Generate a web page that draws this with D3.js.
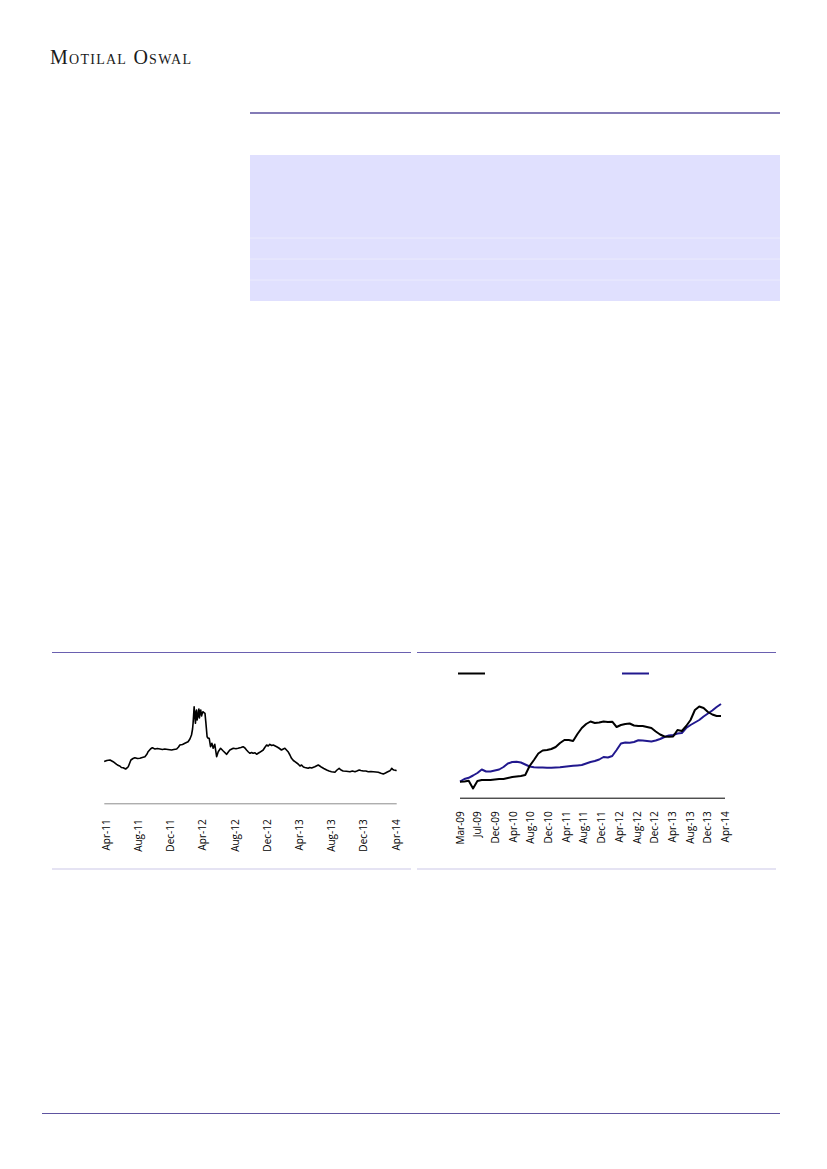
<!DOCTYPE html>
<html>
<head>
<meta charset="utf-8">
<script src="https://cdn.jsdelivr.net/npm/d3@7/dist/d3.min.js"></script>
<style>
  html, body { margin: 0; padding: 0; background: #fff; }
  svg { display: block; }
  .tick text { font-family: "Open Sans", "Noto Sans", sans-serif; font-size: 10px; fill: #000; }
</style>
</head>
<body>
<svg id="page" width="827" height="1169"></svg>
<script>
// ---------------- DATA ----------------
// Chart 1: daily stock price (unlabelled y scale)
const stockDates = [
  "2011-03-27","2011-04-06","2011-04-18","2011-04-30","2011-05-13","2011-05-20","2011-05-25","2011-05-31",
  "2011-06-07","2011-06-16","2011-06-21","2011-06-26","2011-07-06","2011-07-14","2011-07-21","2011-07-31",
  "2011-08-09","2011-08-18","2011-08-28","2011-09-05","2011-09-09","2011-09-18","2011-09-25","2011-10-01",
  "2011-10-05","2011-10-14","2011-10-24","2011-11-02","2011-11-11","2011-11-23","2011-12-07","2011-12-15",
  "2011-12-26","2012-01-02","2012-01-07","2012-01-17","2012-01-26","2012-02-07","2012-02-14","2012-02-20",
  "2012-02-24","2012-02-26","2012-03-01","2012-03-04","2012-03-06","2012-03-08","2012-03-10","2012-03-12",
  "2012-03-15","2012-03-17","2012-03-19","2012-03-21","2012-03-23","2012-03-26","2012-03-29","2012-03-31",
  "2012-04-03","2012-04-06","2012-04-11","2012-04-14","2012-04-19","2012-04-23","2012-04-27","2012-05-02",
  "2012-05-07","2012-05-12","2012-05-18","2012-05-25","2012-05-31","2012-06-09","2012-06-19","2012-07-02",
  "2012-07-08","2012-07-14","2012-07-27","2012-08-06","2012-08-14","2012-08-25","2012-09-02","2012-09-09",
  "2012-09-15","2012-09-22","2012-09-28","2012-10-04","2012-10-10","2012-10-17","2012-10-23","2012-11-04",
  "2012-11-17","2012-11-23","2012-11-30","2012-12-06","2012-12-12","2012-12-19","2012-12-25","2013-01-07",
  "2013-01-15","2013-01-25","2013-02-01","2013-02-07","2013-02-19","2013-02-26","2013-03-04","2013-03-11",
  "2013-03-17","2013-03-29","2013-04-05","2013-04-11","2013-04-18","2013-04-24","2013-05-06","2013-05-12",
  "2013-05-19","2013-05-31","2013-06-13","2013-06-19","2013-06-26","2013-07-04","2013-07-15","2013-07-24",
  "2013-08-02","2013-08-09","2013-08-15","2013-08-23","2013-08-31","2013-09-07","2013-09-15","2013-09-27",
  "2013-10-11","2013-10-20","2013-10-30","2013-11-06","2013-11-15","2013-11-21","2013-11-30","2013-12-10",
  "2013-12-19","2013-12-29","2014-01-07","2014-01-17","2014-01-26","2014-02-05","2014-02-14","2014-02-22",
  "2014-03-01","2014-03-11","2014-03-15","2014-03-18","2014-03-22","2014-03-26","2014-04-01","2014-04-05"
];
const stockValues = [
  41.8,42.8,43.3,41.6,39.0,37.8,37.3,35.8,
  35.6,34.3,35.3,36.6,43.3,44.8,45.6,44.8,
  45.0,45.8,46.6,49.3,51.6,54.3,55.6,54.8,
  54.3,54.8,54.3,53.8,54.3,53.8,53.3,53.8,
  54.3,56.3,58.3,58.8,60.0,61.6,64.3,68.3,
  74.3,80.0,96.6,85.3,80.0,91.3,93.3,83.3,
  87.3,91.3,94.3,85.3,91.3,93.3,87.3,89.3,
  91.6,91.0,90.0,81.6,66.6,65.0,65.0,56.6,
  60.0,55.0,59.0,46.6,51.6,55.0,52.3,49.0,
  51.3,53.3,55.0,54.6,55.0,55.8,56.6,55.3,
  53.3,51.3,50.0,50.8,50.0,50.6,49.0,51.0,
  53.3,55.8,58.3,57.3,59.0,57.8,58.3,56.6,
  55.3,53.3,54.3,55.0,51.6,48.3,45.0,42.8,
  41.6,39.3,37.3,38.3,36.3,35.8,35.0,35.8,
  35.3,36.6,38.3,37.3,36.0,34.8,33.3,32.3,
  31.6,31.3,31.0,33.3,35.0,33.3,32.3,32.0,
  31.6,32.3,31.6,32.3,33.3,32.8,32.3,32.3,
  31.6,31.8,31.6,31.3,31.0,30.0,29.3,30.3,
  31.3,32.6,33.8,35.0,33.8,33.3,33.1,32.6
];
const stockTickDates = ["2011-04-01","2011-08-01","2011-12-01","2012-04-01","2012-08-01",
  "2012-12-01","2013-04-01","2013-08-01","2013-12-01","2014-04-01"];

// Chart 2: two monthly series (black and blue), category axis
const seriesBlack = [
  16.0,16.2,17.0,9.2,16.7,17.7,17.7,17.7,18.2,18.7,
  18.7,19.7,20.7,21.2,21.7,22.7,31.7,37.7,44.2,47.2,
  47.7,48.7,50.7,54.7,57.7,57.7,56.7,63.7,69.7,73.7,
  76.2,74.7,75.2,76.2,75.7,76.0,70.7,72.7,73.7,74.2,
  72.2,71.7,71.7,70.7,69.7,66.2,63.2,61.2,61.0,61.2,
  67.7,66.7,71.7,77.7,87.7,91.2,89.7,85.7,83.2,81.7,81.7
];
const seriesBlue = [
  16.0,18.7,19.9,22.2,24.7,28.2,26.2,26.2,27.2,28.2,
  30.7,34.2,35.7,36.0,35.2,33.2,31.2,30.4,30.2,30.1,
  30.0,30.0,30.2,30.4,31.0,31.5,31.9,32.3,32.7,34.2,
  35.7,36.7,38.2,40.7,40.2,41.7,47.7,54.2,55.2,54.9,
  55.7,57.4,57.2,56.7,56.2,57.2,58.7,60.7,62.2,62.7,
  64.2,64.7,69.7,72.7,75.2,77.7,81.2,84.2,87.2,90.7,93.7
];
const chart2TickLabels = ["Mar-09","Jul-09","Dec-09","Apr-10","Aug-10","Dec-10","Apr-11","Aug-11",
  "Dec-11","Apr-12","Aug-12","Dec-12","Apr-13","Aug-13","Dec-13","Apr-14"];

// ---------------- PAGE ----------------
const svg = d3.select("#page");
const parse = d3.timeParse("%Y-%m-%d");

// Header
svg.append("text")
  .attr("x", 50).attr("y", 64)
  .attr("textLength", 141).attr("lengthAdjust", "spacing")
  .style("font-family", "'Liberation Serif', 'DejaVu Serif', serif")
  .style("font-size", "20px")
  .style("font-variant", "small-caps")
  .style("fill", "#1a1a1a")
  .text("Motilal Oswal");

// Top rule
svg.append("line").attr("x1", 250).attr("x2", 780).attr("y1", 113).attr("y2", 113)
  .attr("stroke", "#5a4f9e").attr("stroke-width", 1.5);

// Lavender table block
svg.append("rect").attr("x", 250).attr("y", 155).attr("width", 530).attr("height", 146)
  .attr("fill", "#e0e0fe");
[238, 259, 280].forEach(y => {
  svg.append("line").attr("x1", 250).attr("x2", 780).attr("y1", y).attr("y2", y)
    .attr("stroke", "#ebebfc").attr("stroke-width", 1);
});

// Chart frames
function frame(x1, x2) {
  svg.append("line").attr("x1", x1).attr("x2", x2).attr("y1", 652.5).attr("y2", 652.5)
    .attr("stroke", "#6a60b0").attr("stroke-width", 1);
  svg.append("line").attr("x1", x1).attr("x2", x2).attr("y1", 869).attr("y2", 869)
    .attr("stroke", "#dcdaef").attr("stroke-width", 1.5);
}
frame(52, 411);
frame(417, 776);

// ---------------- CHART 1 ----------------
const x1 = d3.scaleTime()
  .domain([parse("2011-04-01"), parse("2014-04-01")])
  .range([105.5, 395.5]);
const y1 = d3.scaleLinear().domain([0, 100]).range([803.3, 703.3]);

const ax1 = svg.append("g").attr("transform", "translate(0,803.3)")
  .call(d3.axisBottom(x1)
    .tickValues(stockTickDates.map(parse))
    .tickFormat(d3.timeFormat("%b-%y"))
    .tickSize(0).tickSizeOuter(0));
ax1.select(".domain").attr("stroke", "#8c8c8c").attr("stroke-width", 1)
  .attr("d", "M104.3,0.5H396.7");
ax1.selectAll(".tick text")
  .attr("transform", "rotate(-90)")
  .attr("text-anchor", "end")
  .attr("x", -16).attr("y", 0).attr("dy", "0.35em");

const stockData = stockDates.map((d, i) => ({ d: parse(d), v: stockValues[i] }));
svg.append("path").datum(stockData)
  .attr("fill", "none").attr("stroke", "#000").attr("stroke-width", 1.6)
  .attr("stroke-linejoin", "round")
  .attr("d", d3.line().x(p => x1(p.d)).y(p => y1(p.v)));

// ---------------- CHART 2 ----------------
const x2 = d3.scaleLinear().domain([0, seriesBlack.length - 1]).range([460, 721]);
const x2lab = d3.scalePoint().domain(chart2TickLabels).range([459.5, 725]);
const y2 = d3.scaleLinear().domain([0, 100]).range([797.7, 697.7]);

const ax2 = svg.append("g").attr("transform", "translate(0,797.7)")
  .call(d3.axisBottom(x2lab).tickSize(0).tickSizeOuter(0));
ax2.select(".domain").attr("stroke", "#000").attr("stroke-width", 1)
  .attr("d", "M460,0.5H725");
ax2.selectAll(".tick text")
  .attr("transform", "rotate(-90)")
  .attr("text-anchor", "end")
  .attr("x", -13.5).attr("y", 0).attr("dy", "0.35em");

const line2 = d3.line().x((v, i) => x2(i)).y(v => y2(v));
svg.append("path").datum(seriesBlue)
  .attr("fill", "none").attr("stroke", "#21188e").attr("stroke-width", 2)
  .attr("stroke-linejoin", "round").attr("d", line2);
svg.append("path").datum(seriesBlack)
  .attr("fill", "none").attr("stroke", "#000").attr("stroke-width", 2)
  .attr("stroke-linejoin", "round").attr("d", line2);

// Legend swatches
svg.append("line").attr("x1", 458).attr("x2", 485).attr("y1", 673.5).attr("y2", 673.5)
  .attr("stroke", "#000").attr("stroke-width", 2);
svg.append("line").attr("x1", 622).attr("x2", 649).attr("y1", 673.5).attr("y2", 673.5)
  .attr("stroke", "#21188e").attr("stroke-width", 2);

// Footer rule
svg.append("line").attr("x1", 42).attr("x2", 780).attr("y1", 1113.5).attr("y2", 1113.5)
  .attr("stroke", "#5e54a0").attr("stroke-width", 1);
</script>
</body>
</html>
